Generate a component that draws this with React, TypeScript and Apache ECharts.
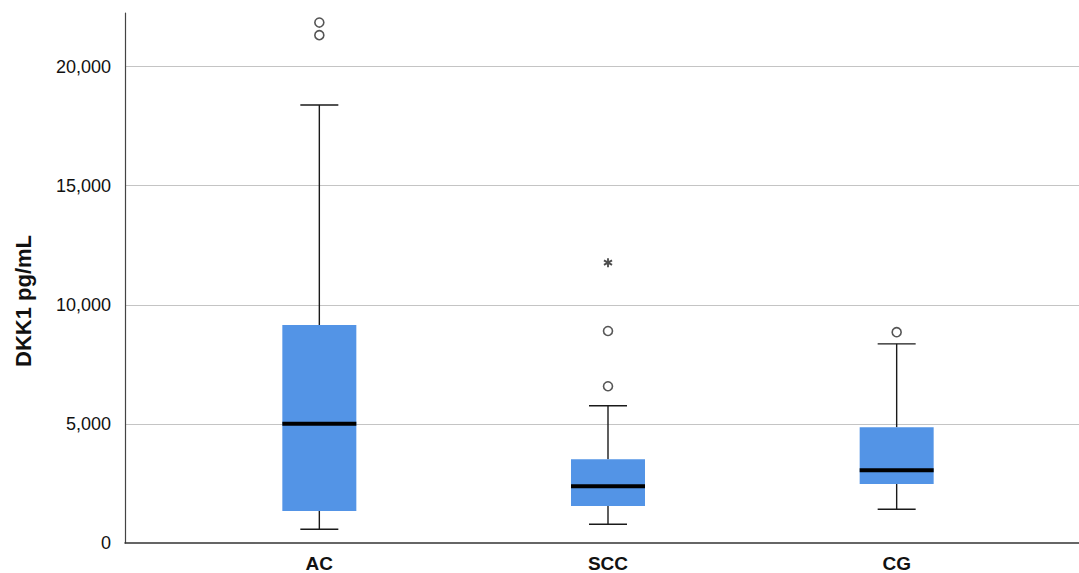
import React, { useEffect, useRef } from "react";
import * as echarts from "echarts";

const categories = ["AC", "SCC", "CG"];
const mins = [580, 790, 1420];
const q1s = [1345, 1555, 2480];
const medians = [5010, 2380, 3055];
const q3s = [9150, 3520, 4860];
const maxs = [18390, 5760, 8360];
const outlierCats = [0, 0, 1, 1, 2];
const outlierValues = [21850, 21320, 8900, 6580, 8850];
const extremeCats = [1];
const extremeValues = [11770];
const yMax = 22250;
const yInterval = 5000;
const yTitle = "DKK1 pg/mL";

function asteriskPath(): string {
  const parts: string[] = [];
  const hw = 10;
  for (let k = 0; k < 3; k++) {
    const a = (Math.PI / 3) * k;
    const dx = Math.sin(a), dy = -Math.cos(a);
    const px = Math.cos(a), py = Math.sin(a);
    const p = (s: number, w: number) =>
      `${(50 + dx * s + px * w).toFixed(2)},${(50 + dy * s + py * w).toFixed(2)}`;
    parts.push(`M${p(50, -hw)} L${p(50, hw)} L${p(-50, hw)} L${p(-50, -hw)} Z`);
  }
  return "path://" + parts.join(" ");
}

export default function App() {
  const ref = useRef<HTMLDivElement>(null);
  useEffect(() => {
    if (!ref.current) return;
    const chart = echarts.init(ref.current, undefined, { renderer: "svg" });
    const boxData = categories.map((_, i) => [i, mins[i], q1s[i], medians[i], q3s[i], maxs[i]]);
    const gridTop = 13;
    const gridBottom = 30;
    chart.setOption({
      animation: false,
      backgroundColor: "#ffffff",
      grid: [
        { left: 125, right: 0, top: gridTop, bottom: gridBottom },
        { left: 175, right: 38, top: gridTop, bottom: gridBottom },
      ],
      xAxis: [
        {
          gridIndex: 0,
          type: "value",
          min: 0,
          max: 1,
          axisLine: { show: true, onZero: false, lineStyle: { color: "#333", width: 1.5 } },
          axisTick: { show: false },
          axisLabel: { show: false },
          splitLine: { show: false },
        },
        {
          gridIndex: 1,
          type: "category",
          data: categories,
          axisLine: { show: false },
          axisTick: { show: false },
          axisLabel: {
            margin: 11,
            color: "#111",
            fontFamily: "Liberation Sans, Arial, sans-serif",
            fontWeight: "bold",
            fontSize: 19,
          },
        },
      ],
      yAxis: [
        {
          gridIndex: 0,
          type: "value",
          min: 0,
          max: yMax,
          interval: yInterval,
          axisLine: { show: true, lineStyle: { color: "#444", width: 1.2 } },
          axisTick: { show: false },
          axisLabel: {
            margin: 14,
            color: "#111",
            fontFamily: "Liberation Sans, Arial, sans-serif",
            fontSize: 18,
            formatter: (v: number) => (v % yInterval === 0 ? v.toLocaleString("en-US") : ""),
          },
          splitLine: {
            show: true,
            showMinLine: false,
            showMaxLine: false,
            lineStyle: { color: "#c4c4c4", width: 1.2 },
          },
        },
        {
          gridIndex: 1,
          type: "value",
          min: 0,
          max: yMax,
          show: false,
          splitLine: { show: false },
        },
      ],
      graphic: [
        {
          type: "text",
          x: 23,
          y: 301,
          rotation: Math.PI / 2,
          style: {
            text: yTitle,
            fill: "#111",
            font: "bold 22px Liberation Sans, Arial, sans-serif",
            align: "center",
            verticalAlign: "middle",
          },
        },
      ],
      series: [
        {
          type: "custom",
          xAxisIndex: 1,
          yAxisIndex: 1,
          data: boxData,
          encode: { x: 0, y: [1, 2, 3, 4, 5] },
          renderItem: (params: any, api: any) => {
            const i = api.value(0);
            const pMin = api.coord([i, api.value(1)]);
            const pQ1 = api.coord([i, api.value(2)]);
            const pMed = api.coord([i, api.value(3)]);
            const pQ3 = api.coord([i, api.value(4)]);
            const pMax = api.coord([i, api.value(5)]);
            const x = pMed[0];
            const bw = 74;
            const cw = 38;
            const ls = { stroke: "#1a1a1a", lineWidth: 1.4 };
            return {
              type: "group",
              children: [
                { type: "line", shape: { x1: x, y1: pMax[1], x2: x, y2: pQ3[1] }, style: ls },
                { type: "line", shape: { x1: x, y1: pQ1[1], x2: x, y2: pMin[1] }, style: ls },
                { type: "line", shape: { x1: x - cw / 2, y1: pMax[1], x2: x + cw / 2, y2: pMax[1] }, style: ls },
                { type: "line", shape: { x1: x - cw / 2, y1: pMin[1], x2: x + cw / 2, y2: pMin[1] }, style: ls },
                {
                  type: "rect",
                  shape: { x: x - bw / 2, y: pQ3[1], width: bw, height: pQ1[1] - pQ3[1] },
                  style: { fill: "#5394e6" },
                },
                {
                  type: "rect",
                  shape: { x: x - bw / 2, y: pMed[1] - 2, width: bw, height: 4 },
                  style: { fill: "#000000" },
                },
              ],
            };
          },
          z: 2,
        },
        {
          type: "scatter",
          xAxisIndex: 1,
          yAxisIndex: 1,
          symbol: "circle",
          symbolSize: 9,
          itemStyle: { color: "#ffffff", borderColor: "#2a2a2a", borderWidth: 1.6 },
          data: outlierCats.map((c, i) => [c, outlierValues[i]]),
          z: 3,
        },
        {
          type: "scatter",
          xAxisIndex: 1,
          yAxisIndex: 1,
          symbol: asteriskPath(),
          symbolSize: 9,
          itemStyle: { color: "#222" },
          data: extremeCats.map((c, i) => [c, extremeValues[i]]),
          z: 3,
        },
      ],
    });
    return () => chart.dispose();
  }, []);
  return (
    <div
      ref={ref}
      style={{ position: "fixed", left: 0, top: 0, width: "1079px", height: "573px", background: "#fff" }}
    />
  );
}
